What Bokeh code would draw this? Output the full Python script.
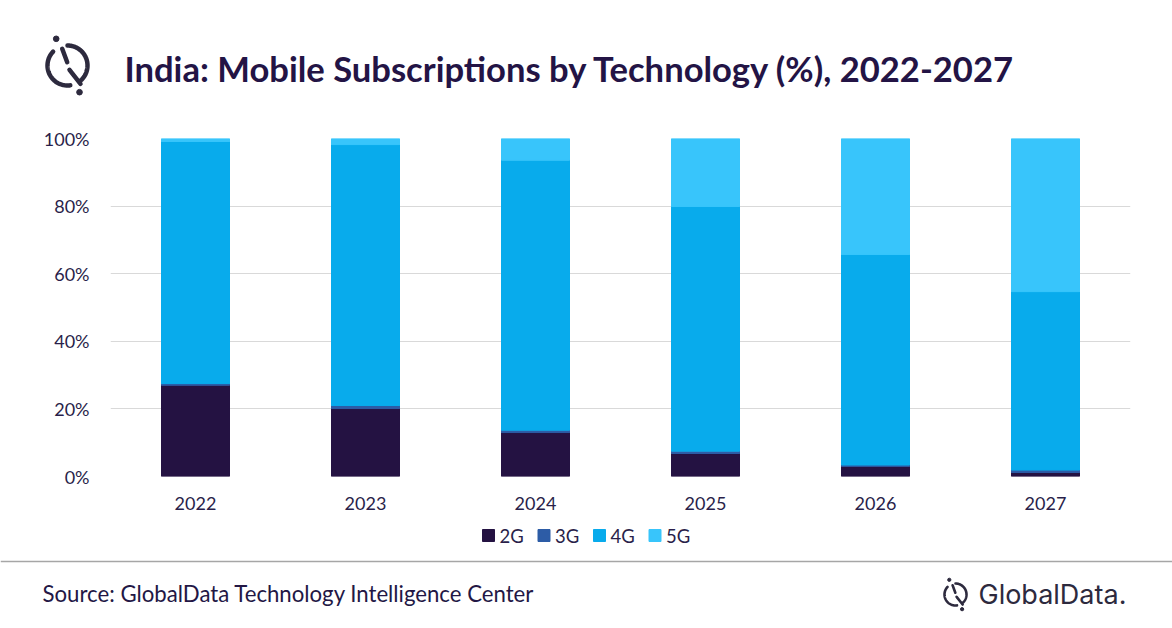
import numpy as np
from bokeh.core.properties import value
from bokeh.embed import file_html
from bokeh.layouts import column
from bokeh.models import (ColumnDataSource, FactorRange, FixedTicker,
                          NumeralTickFormatter, Range1d)
from bokeh.plotting import figure
from bokeh.resources import INLINE

# ---- data (share of subscriptions) ----
years = ["2022", "2023", "2024", "2025", "2026", "2027"]
techs = ["2G", "3G", "4G", "5G"]
share_2g = [0.270, 0.201, 0.130, 0.068, 0.030, 0.012]
share_3g = [0.005, 0.009, 0.007, 0.007, 0.004, 0.007]
share_4g = [0.716, 0.772, 0.799, 0.724, 0.623, 0.528]
share_5g = [0.009, 0.018, 0.064, 0.201, 0.343, 0.453]
y_ticks = [0, 0.2, 0.4, 0.6, 0.8, 1.0]

title = "India: Mobile Subscriptions by Technology (%), 2022-2027"
source_txt = "Source: GlobalData Technology Intelligence Center"

colors = ["#241242", "#2d5ca6", "#08abec", "#38c5fb"]
ink = "#2d2a3e"
txt = "#2a1f4a"
FONT = "Lato"
W = 1172


def bare(fig):
    fig.grid.visible = False
    fig.outline_line_color = None
    return fig


def draw_logo(fig, cx, cy, r, lw):
    # circle with two gaps + broken diagonal + two dots (image coords, y down)
    for a0, a1 in [(136, 278), (-52, 90)]:
        t = np.radians(np.linspace(a0, a1, 60))
        fig.line(cx + r * np.cos(t), cy - r * np.sin(t), line_color=ink,
                 line_width=lw, line_cap="round")
    fig.segment(x0=[cx - 0.265 * r, cx + 0.10 * r], y0=[cy - 0.835 * r, cy + 0.215 * r],
                x1=[cx - 0.015 * r, cx + 0.65 * r], y1=[cy - 0.165 * r, cy + 0.915 * r],
                line_color=ink, line_width=lw, line_cap="round")
    fig.scatter([cx - 0.565 * r, cx + 0.60 * r], [cy - 1.335 * r, cy + 1.335 * r],
                size=lw * 1.25, color=ink)


# ---- header: logo + title ----
head = bare(figure(width=W, height=108, x_range=Range1d(0, W), y_range=Range1d(108, 0),
                   x_axis_location=None, y_axis_location=None, min_border=0,
                   frame_align=False, output_backend="svg", toolbar_location=None))
draw_logo(head, 67, 65, 20, 4.5)
head.text(x=[124], y=[68], text=[title], text_font=value(FONT), text_font_style="bold",
          text_font_size="34.6px", text_color="#231445", text_baseline="middle")

# ---- chart ----
src = ColumnDataSource(dict(year=years, **dict(zip(techs, [share_2g, share_3g, share_4g, share_5g]))))

p = figure(x_range=FactorRange(*years), y_range=Range1d(0, 1), width=W, height=407,
           min_border_left=110, min_border_right=42, min_border_top=30, min_border_bottom=39,
           frame_align=False, output_backend="svg", toolbar_location=None)
p.vbar_stack(techs, x="year", width=0.4, color=colors, source=src)

p.outline_line_color = None
p.xgrid.grid_line_color = None
p.ygrid.grid_line_color = "#d9d9d9"
p.ygrid.grid_line_width = 1
p.yaxis.ticker = FixedTicker(ticks=y_ticks)
p.yaxis.formatter = NumeralTickFormatter(format="0%")
p.yaxis.major_label_standoff = 15
p.xaxis.major_label_standoff = 14
for ax in (p.xaxis, p.yaxis):
    ax.axis_line_color = None
    ax.major_tick_line_color = None
    ax.minor_tick_line_color = None
    ax.major_label_text_font = FONT
    ax.major_label_text_font_size = "18px"
    ax.major_label_text_color = txt

# ---- footer: legend row, rule, source, brand ----
foot = bare(figure(width=W, height=113, x_range=Range1d(0, W), y_range=Range1d(628, 515),
                   x_axis_location=None, y_axis_location=None, min_border=0,
                   frame_align=False, output_backend="svg", toolbar_location=None))

# legend: one square + label per technology
step = 55.5
key_x = [488 + i * step for i in range(len(techs))]
foot.rect(x=key_x, y=[535] * len(techs), width=12, height=12, color=colors)
foot.text(x=[k + 11 for k in key_x], y=[535] * len(techs), text=techs,
          text_font=value(FONT), text_font_size="18.5px", text_color=txt,
          text_baseline="middle")

foot.segment(x0=[0], y0=[561], x1=[W], y1=[561], line_color="#a6a6a6", line_width=1.5)
foot.text(x=[42], y=[593], text=[source_txt], text_font=value(FONT), text_font_size="22.2px",
          text_color="#231745", text_baseline="middle")
draw_logo(foot, 955, 594, 11, 2.6)
foot.text(x=[978], y=[594], text=["GlobalData."], text_font=value("Inter"),
          text_font_size="27px", text_color=ink, text_baseline="middle")

layout = column(head, p, foot)
open("out.html", "w").write(file_html(layout, INLINE))
